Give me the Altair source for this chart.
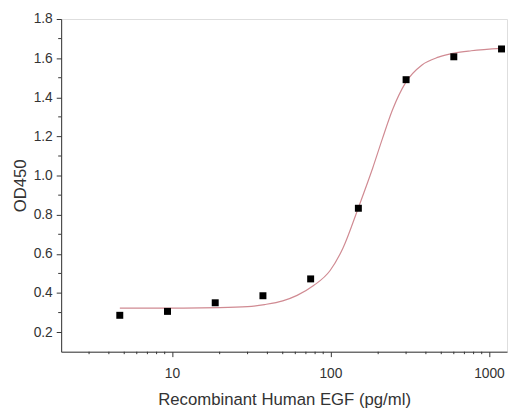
import altair as alt
import pandas as pd

# Measured data points
conc = [4.6875, 9.375, 18.75, 37.5, 75, 150, 300, 600, 1200]
od450 = [0.286, 0.306, 0.350, 0.386, 0.472, 0.833, 1.490, 1.607, 1.647]

# Fitted curve
curve_x = [4.69, 10, 20, 30, 38.4, 50, 61.6, 78.3, 99.5, 120, 150, 185, 213, 246,
           298, 378, 480, 603, 773, 1200]
curve_y = [0.323, 0.323, 0.325, 0.330, 0.341, 0.360, 0.388, 0.438, 0.515, 0.630, 0.836,
           1.040, 1.190, 1.335, 1.475, 1.565, 1.605, 1.626, 1.638, 1.650]

x_major = [10, 100, 1000]
x_minor = [3, 4, 5, 6, 7, 8, 9, 20, 30, 40, 50, 60, 70, 80, 90,
           200, 300, 400, 500, 600, 700, 800, 900]
y_major = [0.2, 0.4, 0.6, 0.8, 1.0, 1.2, 1.4, 1.6, 1.8]
y_minor = [0.3, 0.5, 0.7, 0.9, 1.1, 1.3, 1.5, 1.7]

W, H = 453, 338

pts = pd.DataFrame({"x": conc, "y": od450})
crv = pd.DataFrame({"x": curve_x, "y": curve_y})
xm = pd.DataFrame({"v": x_minor})
ym = pd.DataFrame({"v": y_minor})

FONT = "Liberation Sans"
AX = "#333333"

xscale = alt.Scale(type="log", domain=[2, 1300], nice=False)
yscale = alt.Scale(domain=[0.1, 1.8], nice=False, zero=False)

xaxis = alt.Axis(
    title="Recombinant Human EGF (pg/ml)",
    values=x_major, format="d", labelOverlap=False, tickSize=5,
    grid=False, domainColor=AX, tickColor=AX, labelColor=AX, titleColor=AX,
    labelFont=FONT, titleFont=FONT, labelFontSize=14, titleFontSize=17,
    titleFontWeight="normal", labelPadding=10, titlePadding=12,
)
yaxis = alt.Axis(
    title="OD450",
    values=y_major, format=".1f", labelOverlap=False, tickSize=5,
    grid=False, domainColor=AX, tickColor=AX, labelColor=AX, titleColor=AX,
    labelFont=FONT, titleFont=FONT, labelFontSize=14, titleFontSize=17,
    titleFontWeight="normal", labelPadding=4, titlePadding=4,
)

line = alt.Chart(crv).mark_line(color="#d08a92", strokeWidth=1.2, interpolate="monotone").encode(
    x=alt.X("x:Q", scale=xscale, axis=xaxis),
    y=alt.Y("y:Q", scale=yscale, axis=yaxis),
)
points = alt.Chart(pts).mark_square(color="black", size=50, opacity=1).encode(
    x=alt.X("x:Q", scale=xscale),
    y=alt.Y("y:Q", scale=yscale),
)
xminor = alt.Chart(xm).mark_rule(color=AX, strokeWidth=1).encode(
    x=alt.X("v:Q", scale=xscale),
    y=alt.value(H),
    y2=alt.value(H + 2.5),
)
yminor = alt.Chart(ym).mark_rule(color=AX, strokeWidth=1).encode(
    y=alt.Y("v:Q", scale=yscale),
    x=alt.value(-3),
    x2=alt.value(0),
)

chart = (line + points + xminor + yminor).properties(
    width=W, height=H,
    autosize=alt.AutoSizeParams(type="none"),
    padding={"left": 54, "top": 8, "right": 2, "bottom": 54},
).configure_view(stroke=None).configure(background="white")

chart.save("out.html", embed_options={"renderer": "svg", "actions": False})
